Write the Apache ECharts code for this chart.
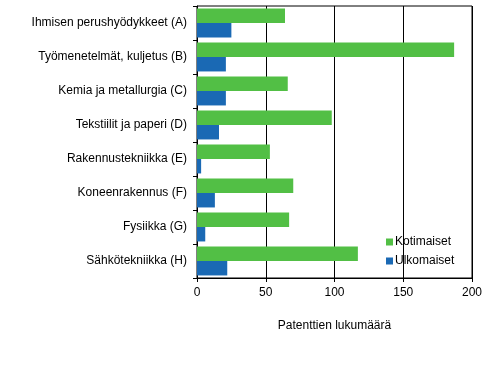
<!DOCTYPE html>
<html lang="fi">
<head>
    <meta charset="UTF-8">
    <title>Patentit</title>
    <script src="https://cdn.jsdelivr.net/npm/echarts@6/dist/echarts.min.js"></script>
    <style>
        html, body { margin: 0; padding: 0; background: #fff; }
        #main { width: 493px; height: 377px; }
    </style>
</head>
<body>
<div id="main"></div>
<script type="text/javascript">
    // luokat ylhäältä alas
    var categories = [
        'Ihmisen perushyödykkeet (A)',
        'Työmenetelmät, kuljetus (B)',
        'Kemia ja metallurgia (C)',
        'Tekstiilit ja paperi (D)',
        'Rakennustekniikka (E)',
        'Koneenrakennus (F)',
        'Fysiikka (G)',
        'Sähkötekniikka (H)'
    ];
    var kotimaiset = [64, 187, 66, 98, 53, 70, 67, 117];
    var ulkomaiset = [25, 21, 21, 16, 3, 13, 6, 22];
    var xTicks = [0, 50, 100, 150, 200];

    var myChart = echarts.init(document.getElementById('main'));
    var font = 'Arial, "Liberation Sans", sans-serif';

    var option = {
        animation: false,
        textStyle: { fontFamily: font, color: '#000' },
        grid: {
            left: 197, top: 6, width: 275, height: 272,
            show: true, borderColor: '#000', borderWidth: 1,
            containLabel: false
        },
        legend: {
            orient: 'vertical',
            left: 381, top: 231,
            itemWidth: 7, itemHeight: 7, itemGap: 7,
            icon: 'rect',
            textStyle: { fontFamily: font, fontSize: 12, color: '#000', padding: [0, 0, 0, -3] },
            data: ['Kotimaiset', 'Ulkomaiset']
        },
        xAxis: {
            type: 'value',
            min: xTicks[0], max: xTicks[xTicks.length - 1], interval: 50,
            name: 'Patenttien lukumäärä',
            nameLocation: 'middle',
            nameGap: 42,
            nameTextStyle: { fontFamily: font, fontSize: 12, color: '#000' },
            axisLine: { show: true, lineStyle: { color: '#000', width: 1 } },
            axisTick: { show: true, length: 4, lineStyle: { color: '#000' } },
            axisLabel: { fontFamily: font, fontSize: 12, color: '#000', margin: 9 },
            splitLine: { show: true, lineStyle: { color: '#000', width: 1 } }
        },
        yAxis: {
            type: 'category',
            inverse: true,
            data: categories,
            axisLine: { show: true, lineStyle: { color: '#000', width: 1 } },
            axisTick: { show: true, length: 4, lineStyle: { color: '#000' } },
            axisLabel: { fontFamily: font, fontSize: 12, color: '#000', margin: 10 },
            splitLine: { show: false }
        },
        series: [
            {
                name: 'Kotimaiset',
                type: 'bar',
                data: kotimaiset,
                itemStyle: { color: '#52bf45' },
                barGap: '0%',
                barCategoryGap: '15%'
            },
            {
                name: 'Ulkomaiset',
                type: 'bar',
                data: ulkomaiset,
                itemStyle: { color: '#1a69b4' },
                barGap: '0%',
                barCategoryGap: '15%'
            }
        ]
    };
    myChart.setOption(option);
</script>
</body>
</html>
